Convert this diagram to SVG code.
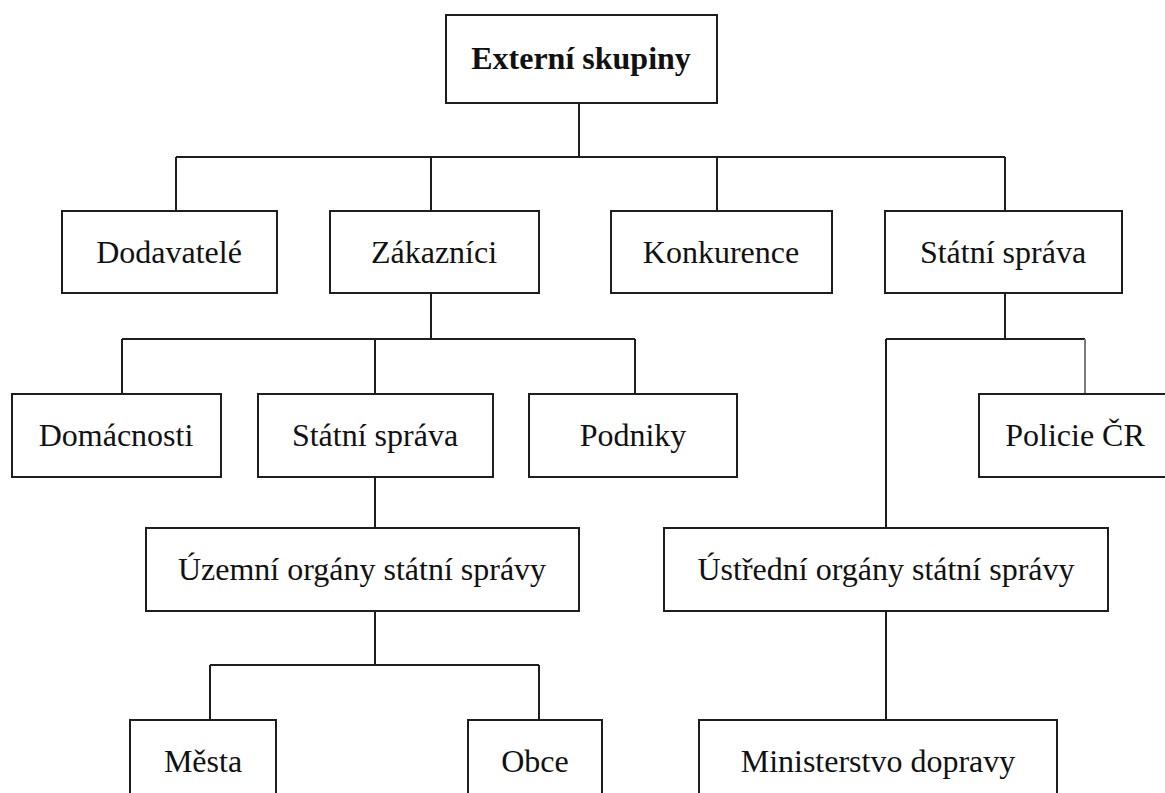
<svg xmlns="http://www.w3.org/2000/svg" width="1165" height="793" viewBox="0 0 1165 793">
  <style>
    .box { fill: #ffffff; stroke: #1e1e1e; stroke-width: 2; }
    .lbl { font-family: 'Liberation Serif', Tinos, 'Times New Roman', Times, 'DejaVu Serif', serif; font-size: 32px; fill: #111111; text-anchor: middle; }
    .bold { font-weight: bold; }
    .wire { fill: none; stroke: #1e1e1e; stroke-width: 2; }
    .wire-light { fill: none; stroke: #7a7a7a; stroke-width: 2; }
  </style>
  <rect width="1165" height="793" fill="#ffffff"/>

  <!-- connectors -->
  <g id="connectors">
    <!-- root to first level -->
    <path class="wire" d="M579 103 V157 M176 157 H1005 M176 157 V211 M431 157 V211 M717 157 V211 M1005 157 V211"/>
    <!-- Zákazníci to its children -->
    <path class="wire" d="M431 293 V339 M122 339 H635 M122 339 V394 M375 339 V394 M635 339 V394"/>
    <!-- Státní správa (top) to its children -->
    <path class="wire" d="M1005 293 V339 M886 339 H1085 M886 339 V528"/>
    <path class="wire-light" d="M1085 339 V394"/>
    <!-- Státní správa (customers) to territorial bodies -->
    <path class="wire" d="M375 477 V528"/>
    <!-- territorial bodies to towns and municipalities -->
    <path class="wire" d="M375 611 V665 M210 665 H539 M210 665 V720 M539 665 V720"/>
    <!-- central bodies to ministry -->
    <path class="wire" d="M886 611 V720"/>
  </g>

  <g id="n-root">
    <rect class="box" x="446" y="15" width="271" height="88"/>
    <text class="lbl bold" x="581" y="69" font-family="Liberation Serif, serif">Externí skupiny</text>
  </g>

  <g id="n-dodavatele">
    <rect class="box" x="62" y="211" width="215" height="82"/>
    <text class="lbl" x="169" y="263">Dodavatelé</text>
  </g>
  <g id="n-zakaznici">
    <rect class="box" x="330" y="211" width="209" height="82"/>
    <text class="lbl" x="434" y="263">Zákazníci</text>
  </g>
  <g id="n-konkurence">
    <rect class="box" x="611" y="211" width="221" height="82"/>
    <text class="lbl" x="721" y="263">Konkurence</text>
  </g>
  <g id="n-statni-sprava">
    <rect class="box" x="885" y="211" width="237" height="82"/>
    <text class="lbl" x="1003" y="263">Státní správa</text>
  </g>

  <g id="n-domacnosti">
    <rect class="box" x="12" y="394" width="209" height="83"/>
    <text class="lbl" x="116" y="446">Domácnosti</text>
  </g>
  <g id="n-statni-sprava-2">
    <rect class="box" x="258" y="394" width="235" height="83"/>
    <text class="lbl" x="375" y="446">Státní správa</text>
  </g>
  <g id="n-podniky">
    <rect class="box" x="529" y="394" width="208" height="83"/>
    <text class="lbl" x="633" y="446">Podniky</text>
  </g>
  <g id="n-policie">
    <rect class="box" x="979" y="394" width="192" height="83"/>
    <text class="lbl" x="1075" y="446">Policie ČR</text>
  </g>

  <g id="n-uzemni">
    <rect class="box" x="146" y="528" width="433" height="83"/>
    <text class="lbl" x="362" y="580">Územní orgány státní správy</text>
  </g>
  <g id="n-ustredni">
    <rect class="box" x="664" y="528" width="444" height="83"/>
    <text class="lbl" x="886" y="580">Ústřední orgány státní správy</text>
  </g>

  <g id="n-mesta">
    <rect class="box" x="130" y="720" width="146" height="83"/>
    <text class="lbl" x="203" y="772">Města</text>
  </g>
  <g id="n-obce">
    <rect class="box" x="468" y="720" width="134" height="83"/>
    <text class="lbl" x="535" y="772">Obce</text>
  </g>
  <g id="n-ministerstvo">
    <rect class="box" x="699" y="720" width="358" height="83"/>
    <text class="lbl" x="878" y="772">Ministerstvo dopravy</text>
  </g>
</svg>
